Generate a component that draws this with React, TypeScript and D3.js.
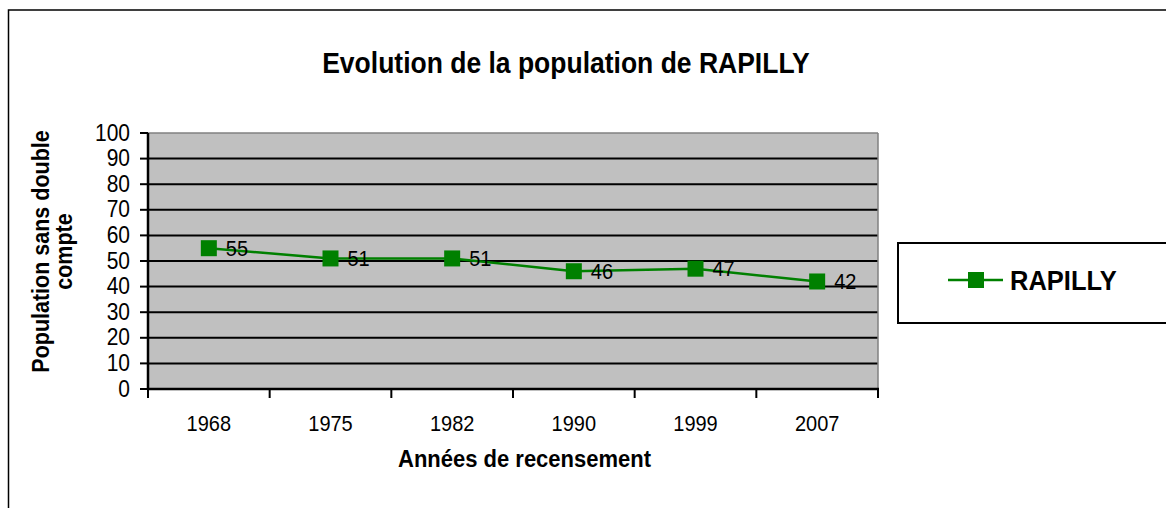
import React from "react";
import * as d3 from "d3";

const years = ["1968", "1975", "1982", "1990", "1999", "2007"];
const population = [55, 51, 51, 46, 47, 42];
const yTicks = [0, 10, 20, 30, 40, 50, 60, 70, 80, 90, 100];
const seriesName = "RAPILLY";

const SY = 1.1;

function T(props: {
  x: number;
  y: number;
  size: number;
  bold?: boolean;
  anchor?: string;
  rotate?: number;
  children: React.ReactNode;
}) {
  const { x, y, size, bold, anchor, rotate, children } = props;
  const tr = `translate(${x},${y})${rotate ? ` rotate(${rotate})` : ""} scale(1,${SY})`;
  return (
    <text
      transform={tr}
      fontSize={size}
      fontWeight={bold ? "bold" : "normal"}
      textAnchor={anchor || "start"}
    >
      {children}
    </text>
  );
}

export default function App() {
  const W = 1166, H = 508;
  const left = 148, right = 878, top = 133, bottom = 389;
  const x = d3.scaleBand<string>().domain(years).range([left, right]);
  const y = d3.scaleLinear().domain([0, 100]).range([bottom, top]);
  const green = "#008000";
  const font = "Liberation Sans, Arial, sans-serif";
  const line = d3
    .line<number>()
    .x((_, i) => (x(years[i]) as number) + x.bandwidth() / 2)
    .y((d) => y(d));
  const boundaries = years.map((yr) => x(yr) as number).concat([right]);
  const ms = 16;

  return (
    <svg
      width={W}
      height={H}
      style={{ position: "absolute", left: 0, top: 0, fontFamily: font }}
    >
      <rect x={0} y={0} width={W} height={H} fill="#fff" />
      <rect x={8.5} y={10} width={W + 20} height={H + 20} fill="#fff" stroke="#000" strokeWidth={1.5} />
      <T x={566} y={73} size={26.5} bold anchor="middle">
        Evolution de la population de RAPILLY
      </T>
      <rect x={left} y={top} width={right - left} height={bottom - top} fill="#c0c0c0" />
      {yTicks.filter((t) => t > 0 && t < 100).map((t) => (
        <line key={t} x1={left} x2={right} y1={y(t)} y2={y(t)} stroke="#000" strokeWidth={2} />
      ))}
      <line x1={left} x2={right} y1={top} y2={top} stroke="#808080" strokeWidth={1.5} />
      <line x1={right} x2={right} y1={top} y2={bottom} stroke="#808080" strokeWidth={1.5} />
      <line x1={left} x2={left} y1={top} y2={bottom + 1} stroke="#000" strokeWidth={2.5} />
      <line x1={left - 1} x2={right + 1} y1={bottom} y2={bottom} stroke="#000" strokeWidth={2.5} />
      {yTicks.map((t) => (
        <g key={t}>
          <line x1={left - 8} x2={left} y1={y(t)} y2={y(t)} stroke="#000" strokeWidth={2} />
          <T x={130} y={y(t) + 7.5} size={21} anchor="end">
            {t}
          </T>
        </g>
      ))}
      {boundaries.map((b, i) => (
        <line key={i} x1={b} x2={b} y1={bottom} y2={bottom + 9} stroke="#000" strokeWidth={2} />
      ))}
      {years.map((yr) => (
        <T key={yr} x={(x(yr) as number) + x.bandwidth() / 2} y={430.5} size={20} anchor="middle">
          {yr}
        </T>
      ))}
      <T x={524.5} y={467} size={22} bold anchor="middle">
        Années de recensement
      </T>
      <T x={49} y={251.5} size={21.5} bold anchor="middle" rotate={-90}>
        Population sans double
      </T>
      <T x={72} y={251.5} size={21.5} bold anchor="middle" rotate={-90}>
        compte
      </T>
      <path d={line(population) || ""} fill="none" stroke={green} strokeWidth={2.5} />
      {population.map((v, i) => {
        const cx = (x(years[i]) as number) + x.bandwidth() / 2;
        const cy = y(v);
        return (
          <g key={i}>
            <rect x={cx - ms / 2} y={cy - ms / 2} width={ms} height={ms} fill={green} />
            <T x={cx + 17} y={cy + 7.5} size={20}>
              {v}
            </T>
          </g>
        );
      })}
      <rect x={898} y={243} width={300} height={80} fill="#fff" stroke="#000" strokeWidth={2} />
      <line x1={948} x2={1003} y1={280} y2={280} stroke={green} strokeWidth={2.5} />
      <rect x={976 - ms / 2} y={280 - ms / 2} width={ms} height={ms} fill={green} />
      <T x={1010} y={290} size={25.5} bold>
        {seriesName}
      </T>
    </svg>
  );
}
